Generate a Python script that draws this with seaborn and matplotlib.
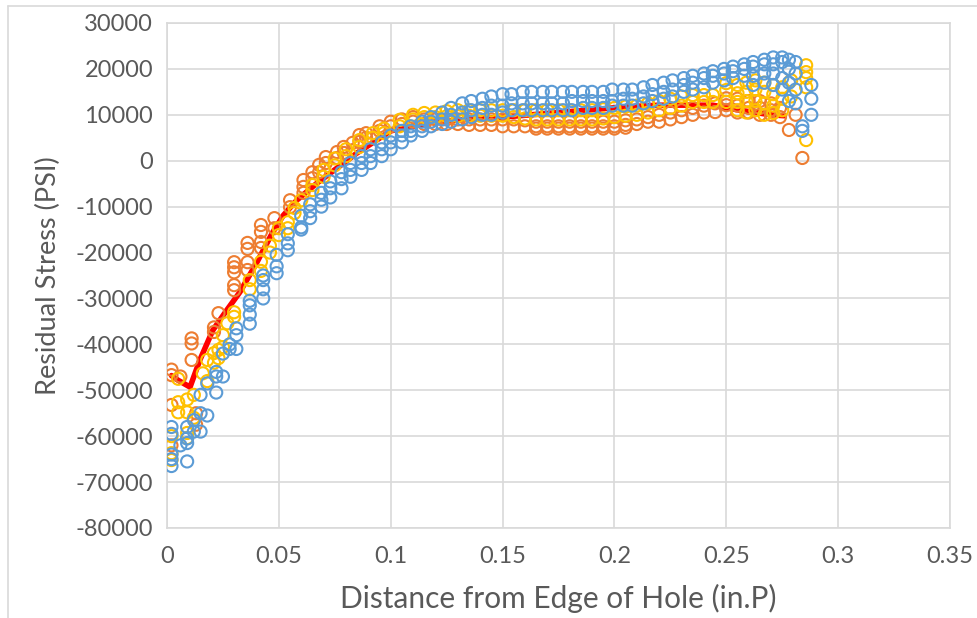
import matplotlib
matplotlib.use("Agg")
import matplotlib.pyplot as plt
import seaborn as sns

# ---------------- data ----------------
# each entry: (distance, [stress values measured at that distance])
blue_cols = [
    (0.002, [-58000, -59500, -64000, -65000, -66500]),
    (0.006, [-62000]),
    (0.009, [-58000, -60500, -61500, -65500]),
    (0.012, [-56500, -59000]),
    (0.015, [-51000, -55000, -59000]),
    (0.018, [-48500, -55500]),
    (0.022, [-46000, -47000, -50500]),
    (0.025, [-42000, -47000]),
    (0.028, [-40000, -41000]),
    (0.031, [-36500, -38000, -41000]),
    (0.037, [-30500, -31500, -33500, -35500]),
    (0.043, [-25000, -26000, -28000, -30000]),
    (0.049, [-20500, -23000, -24500]),
    (0.054, [-16000, -18000, -19500]),
    (0.060, [-12000, -14500, -15000]),
    (0.064, [-9500, -11000, -12500]),
    (0.069, [-7000, -8500, -10000]),
    (0.073, [-4500, -6000, -8000]),
    (0.078, [-2500, -4000, -6000]),
    (0.082, [-500, -2000, -3500]),
    (0.087, [1000, -500, -2000]),
    (0.091, [2500, 1000, -500]),
    (0.096, [4000, 2500, 1000]),
    (0.100, [5500, 4000, 2500]),
    (0.105, [6500, 5500, 4000]),
    (0.109, [7500, 6500, 5500]),
    (0.114, [8500, 7500, 6500]),
    (0.118, [9500, 8500, 7500]),
    (0.123, [10500, 9000, 8000]),
    (0.127, [11500, 10000, 8500]),
    (0.132, [12500, 10500, 9000]),
    (0.136, [13000, 11000, 9500]),
    (0.141, [13500, 11500, 10000]),
    (0.145, [14000, 12000, 10000]),
    (0.150, [14500, 12000, 10500]),
    (0.154, [14500, 12500, 11000]),
    (0.159, [15000, 12500, 11000]),
    (0.163, [15000, 12500, 11000]),
    (0.168, [15000, 12500, 11000]),
    (0.172, [15000, 12500, 11000]),
    (0.177, [15000, 12500, 11000]),
    (0.181, [15000, 13000, 11000]),
    (0.186, [15000, 13000, 11500]),
    (0.190, [15000, 13000, 11500]),
    (0.195, [15000, 13000, 11500]),
    (0.199, [15500, 13000, 12000]),
    (0.204, [15500, 13500, 12000]),
    (0.208, [15500, 13500, 12000]),
    (0.213, [16000, 14000, 12500]),
    (0.217, [16500, 14500, 13000]),
    (0.222, [17000, 15000, 13500]),
    (0.226, [17500, 15500, 14000]),
    (0.231, [18000, 16500, 15000]),
    (0.235, [18500, 17000, 15500]),
    (0.240, [19000, 18000, 16000]),
    (0.244, [19500, 18500, 17000]),
    (0.249, [20000, 19000, 17500]),
    (0.253, [20500, 19500, 18000]),
    (0.258, [21000, 20000, 18500]),
    (0.262, [21500, 20500, 18500, 16500]),
    (0.267, [22000, 21000, 19000, 17000]),
    (0.271, [22500, 21000, 19000, 16500]),
    (0.275, [22500, 21500, 18000, 15500]),
    (0.278, [22000, 20000, 17000, 13000]),
    (0.281, [21500, 19000, 15500, 12500]),
    (0.284, [7500, 6500]),
    (0.288, [16500, 13500, 10000]),
]

orange_cols = [
    (0.002, [-45500, -46700, -53200, -62000]),
    (0.006, [-47000]),
    (0.011, [-38700, -39800, -43400]),
    (0.013, [-55000, -57500]),
    (0.021, [-36300, -37300]),
    (0.023, [-33200]),
    (0.030, [-22100, -23200, -24300, -27100, -28200]),
    (0.036, [-17900, -19200, -22100, -23800]),
    (0.042, [-14000, -15500, -17700, -19000]),
    (0.048, [-12500, -14700]),
    (0.055, [-8600, -10100]),
    (0.061, [-4200, -5700, -7000]),
    (0.065, [-2500, -3800]),
    (0.068, [-900, -2500]),
    (0.071, [800, -500]),
    (0.076, [1900, 600]),
    (0.079, [3000, 1700]),
    (0.083, [3900, 2300]),
    (0.086, [5600, 4100]),
    (0.089, [6000, 5000]),
    (0.095, [7500, 6500]),
    (0.100, [8500, 7500]),
    (0.105, [9000, 8000]),
    (0.110, [9500, 8500]),
    (0.115, [9000, 8000]),
    (0.120, [9000, 8000]),
    (0.125, [9000, 8000]),
    (0.130, [9000, 8000]),
    (0.135, [9000, 7800]),
    (0.140, [9000, 7800]),
    (0.145, [9000, 7800]),
    (0.150, [9000, 7500]),
    (0.155, [9000, 7500]),
    (0.160, [8800, 7500]),
    (0.165, [8500, 7500, 7000]),
    (0.170, [8500, 7500, 7000]),
    (0.175, [8500, 7500, 7000]),
    (0.180, [8500, 7500, 7000]),
    (0.185, [8500, 7500, 7000]),
    (0.190, [8500, 7500, 7000]),
    (0.195, [8500, 7500, 7000]),
    (0.200, [8500, 7500, 7000]),
    (0.205, [8800, 7800, 7200]),
    (0.210, [9000, 8000]),
    (0.215, [9500, 8500]),
    (0.220, [10000, 8500]),
    (0.225, [10500, 9000]),
    (0.230, [11000, 9500]),
    (0.235, [11500, 10000]),
    (0.240, [12000, 10500]),
    (0.245, [12500, 10600]),
    (0.250, [13600, 12100, 11000]),
    (0.255, [13500, 12000, 10500]),
    (0.260, [13000, 11500, 10500]),
    (0.265, [13000, 11500, 10000]),
    (0.270, [12500, 11000, 10000]),
    (0.274, [11500, 9500]),
    (0.278, [6700]),
    (0.281, [10000]),
    (0.284, [600]),
]

yellow_cols = [
    (0.002, [-60000, -63700, -65200]),
    (0.005, [-47500, -52600, -54800]),
    (0.009, [-52000, -54800, -59300, -60400]),
    (0.012, [-51000, -56000]),
    (0.016, [-46300]),
    (0.018, [-43400, -48000]),
    (0.021, [-41900, -44000]),
    (0.023, [-41200, -43000]),
    (0.025, [-38000, -40600]),
    (0.027, [-35400]),
    (0.030, [-33000, -34000]),
    (0.037, [-26000, -28000]),
    (0.042, [-22000, -24000]),
    (0.046, [-18500, -20000]),
    (0.050, [-14700, -16200]),
    (0.054, [-13400, -14700]),
    (0.057, [-10300, -11400]),
    (0.060, [-8600]),
    (0.065, [-5300, -6400]),
    (0.070, [-2000, -3500]),
    (0.075, [500, -1000]),
    (0.080, [2500, 1000]),
    (0.086, [4500, 3000]),
    (0.092, [6000, 5000]),
    (0.097, [7000, 6000]),
    (0.104, [8900, 7500]),
    (0.110, [10000, 9000]),
    (0.115, [10400, 9500]),
    (0.120, [10500, 9500]),
    (0.125, [10800, 9700]),
    (0.130, [11000, 9700]),
    (0.135, [11000, 9800]),
    (0.140, [11000, 9800]),
    (0.145, [11000, 9800]),
    (0.150, [11000, 9800]),
    (0.155, [11000, 9500]),
    (0.160, [11000, 9200]),
    (0.165, [11000, 9000]),
    (0.170, [11000, 9000]),
    (0.175, [11000, 9000]),
    (0.180, [11000, 9000]),
    (0.185, [11000, 9000]),
    (0.190, [11000, 9000]),
    (0.195, [11200, 9200]),
    (0.200, [11500, 9500]),
    (0.205, [11800, 9800]),
    (0.210, [12000, 10000]),
    (0.215, [12500, 10500]),
    (0.220, [13000, 11000]),
    (0.225, [13500, 11500]),
    (0.230, [14000, 12000]),
    (0.235, [14300, 12800]),
    (0.240, [14300, 12800]),
    (0.244, [14300, 12800]),
    (0.250, [16900, 15400, 12800]),
    (0.255, [16500, 14700, 12800, 11000]),
    (0.259, [17000, 15000, 13000, 10500]),
    (0.263, [17500, 15500, 13000, 11000]),
    (0.267, [17000, 15000, 12500, 10000]),
    (0.271, [16500, 14500, 12000, 10400]),
    (0.275, [16000, 13500, 11000]),
    (0.279, [17500, 14000]),
    (0.2857, [20800, 19300, 18000, 16000, 4500]),
]

red_x = [0.002, 0.0049, 0.0103, 0.0147, 0.0205, 0.0268, 0.0326, 0.040, 0.047, 0.052, 0.058, 0.067,
         0.073, 0.085, 0.100, 0.120, 0.150, 0.1875, 0.2036, 0.220, 0.244, 0.256, 0.270, 0.276]
red_y = [-46800, -47800, -49300, -43400, -36900, -32500, -28600, -22300, -15800, -11900, -8600, -4900,
         -2700, 1700, 6500, 8500, 9500, 11000, 11700, 12100, 12100, 11000, 10000, 9800]

x_ticks = [0, 0.05, 0.1, 0.15, 0.2, 0.25, 0.3, 0.35]
x_tick_labels = ["0", "0.05", "0.1", "0.15", "0.2", "0.25", "0.3", "0.35"]
y_ticks = list(range(-80000, 30001, 10000))

BLUE, ORANGE, YELLOW, RED = "#5B9BD5", "#ED7D31", "#FFC000", "#FF0000"


def expand(cols):
    xs, ys = [], []
    for x, vals in cols:
        for v in vals:
            xs.append(x)
            ys.append(v)
    return xs, ys


# ---------------- drawing ----------------
sns.set_theme(style="white")
plt.rcParams["font.family"] = ["Lato", "DejaVu Sans"]

fig = plt.figure(figsize=(9.77, 6.18), dpi=100)
ax = fig.add_axes([167/977, 1-528/618, (950-167)/977, (528-23)/618])

sns.lineplot(x=red_x, y=red_y, ax=ax, color=RED, lw=4, sort=False, zorder=2,
             solid_capstyle="round", solid_joinstyle="round")
for cols, col, z in [(orange_cols, ORANGE, 3), (yellow_cols, YELLOW, 4), (blue_cols, BLUE, 5)]:
    xs, ys = expand(cols)
    sns.scatterplot(x=xs, y=ys, ax=ax, marker="o", s=76, facecolors="none", edgecolor=col,
                    linewidth=1.5, zorder=z)

ax.set_xlim(0, 0.35)
ax.set_ylim(-80000, 30000)
ax.set_xticks(x_ticks)
ax.set_xticklabels(x_tick_labels)
ax.set_yticks(y_ticks)
ax.set_yticklabels([str(v) for v in y_ticks])
ax.grid(True, color="#D9D9D9", linewidth=1.2)
ax.set_axisbelow(True)
for sp in ax.spines.values():
    sp.set_color("#D9D9D9")
    sp.set_linewidth(1.2)
ax.tick_params(axis="y", length=0, labelsize=17, labelcolor="#595959", pad=10)
ax.tick_params(axis="x", length=0, labelsize=17, labelcolor="#595959", pad=13)
ax.set_xlabel("Distance from Edge of Hole (in.P)", fontsize=21.5, color="#595959", labelpad=12)
ax.set_ylabel("Residual Stress (PSI)", fontsize=19.5, color="#595959", labelpad=10)

# chart-area border (left and top edges visible)
fig.add_artist(plt.Line2D([8/977, 8/977], [0, 1-6/618], transform=fig.transFigure, color="#D9D9D9", lw=1.2))
fig.add_artist(plt.Line2D([8/977, 1], [1-6/618, 1-6/618], transform=fig.transFigure, color="#D9D9D9", lw=1.2))

fig.savefig("out.png", dpi=100)
